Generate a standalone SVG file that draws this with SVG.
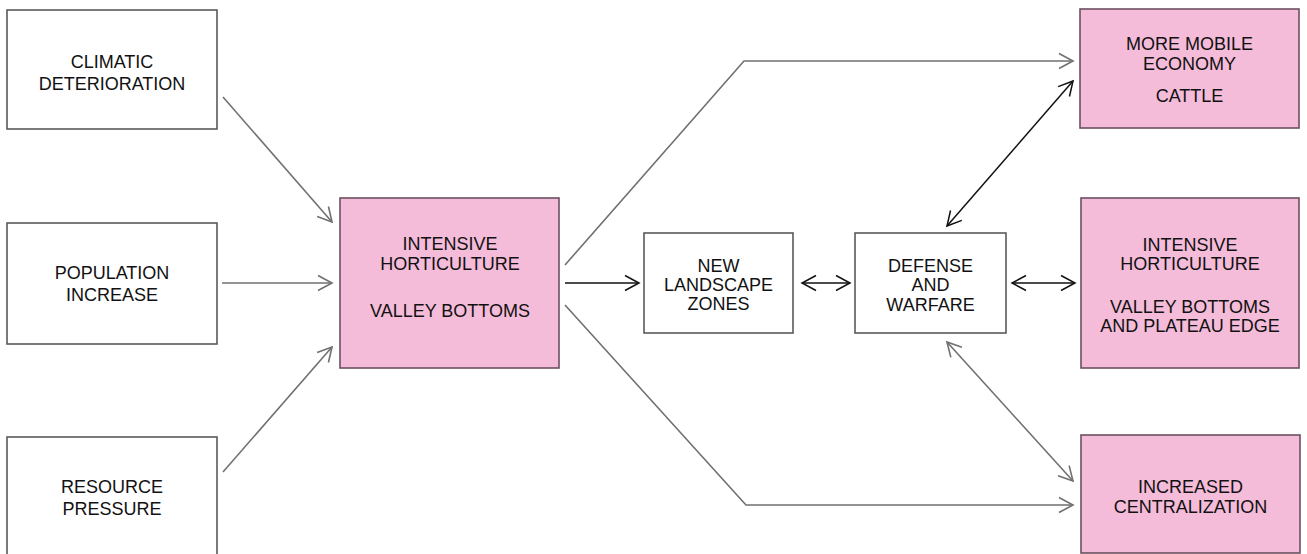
<svg xmlns="http://www.w3.org/2000/svg" width="1307" height="554" viewBox="0 0 1307 554">
  <defs>
    <style>
      .box { fill: #ffffff; stroke: #5a5a5a; stroke-width: 1.6; }
      .pink { fill: #f5bcd9; stroke: #6b5060; stroke-width: 1.6; }
      .label { font-family: "Liberation Sans", Arial, sans-serif; font-size: 18px; fill: #111111; text-anchor: middle; }
      .grey { fill: none; stroke: #707070; stroke-width: 1.6; }
      .black { fill: none; stroke: #111111; stroke-width: 1.5; }
    </style>
    <marker id="headGrey" viewBox="-16 -9 18 18" refX="0" refY="0" markerWidth="18" markerHeight="18" markerUnits="userSpaceOnUse" orient="auto-start-reverse">
      <path d="M -14 -7.5 L 0 0 L -14 7.5" fill="none" stroke="#707070" stroke-width="1.6"/>
    </marker>
    <marker id="headBlack" viewBox="-16 -9 18 18" refX="0" refY="0" markerWidth="18" markerHeight="18" markerUnits="userSpaceOnUse" orient="auto-start-reverse">
      <path d="M -14 -7.5 L 0 0 L -14 7.5" fill="none" stroke="#111111" stroke-width="1.5"/>
    </marker>
  </defs>

  <rect width="1307" height="554" fill="#ffffff"/>

  <!-- connectors -->
  <g id="connectors">
    <line class="grey" x1="223" y1="97" x2="332" y2="222" marker-end="url(#headGrey)"/>
    <line class="grey" x1="222" y1="283" x2="332" y2="283" marker-end="url(#headGrey)"/>
    <line class="grey" x1="223" y1="472" x2="332" y2="347" marker-end="url(#headGrey)"/>
    <line class="black" x1="565" y1="283" x2="639" y2="283" marker-end="url(#headBlack)"/>
    <polyline class="grey" points="565,265 744,61 1073,61" marker-end="url(#headGrey)"/>
    <polyline class="grey" points="565,305 746,505 1073,505" marker-end="url(#headGrey)"/>
    <line class="black" x1="802" y1="283" x2="850" y2="283" marker-start="url(#headBlack)" marker-end="url(#headBlack)"/>
    <line class="black" x1="1012" y1="283" x2="1075" y2="283" marker-start="url(#headBlack)" marker-end="url(#headBlack)"/>
    <line class="black" x1="947" y1="226" x2="1073" y2="81" marker-start="url(#headBlack)" marker-end="url(#headBlack)"/>
    <line class="grey" x1="947" y1="342" x2="1073" y2="481" marker-start="url(#headGrey)" marker-end="url(#headGrey)"/>
  </g>

  <!-- input boxes -->
  <g id="climatic">
    <rect class="box" x="7" y="10" width="210" height="119"/>
    <text class="label" x="112" y="68">CLIMATIC</text>
    <text class="label" x="112" y="90">DETERIORATION</text>
  </g>
  <g id="population">
    <rect class="box" x="7" y="223" width="210" height="121"/>
    <text class="label" x="112" y="279">POPULATION</text>
    <text class="label" x="112" y="301">INCREASE</text>
  </g>
  <g id="resource">
    <rect class="box" x="7" y="437" width="210" height="118"/>
    <text class="label" x="112" y="493">RESOURCE</text>
    <text class="label" x="112" y="515">PRESSURE</text>
  </g>

  <!-- central box -->
  <g id="horticulture-valley">
    <rect class="pink" x="340" y="198" width="219" height="170"/>
    <text class="label" x="450" y="250">INTENSIVE</text>
    <text class="label" x="450" y="270">HORTICULTURE</text>
    <text class="label" x="450" y="317">VALLEY BOTTOMS</text>
  </g>

  <!-- middle boxes -->
  <g id="landscape">
    <rect class="box" x="644" y="233" width="149" height="100"/>
    <text class="label" x="718.5" y="272">NEW</text>
    <text class="label" x="718.5" y="291">LANDSCAPE</text>
    <text class="label" x="718.5" y="310">ZONES</text>
  </g>
  <g id="defense">
    <rect class="box" x="855" y="233" width="151" height="100"/>
    <text class="label" x="930.5" y="272">DEFENSE</text>
    <text class="label" x="930.5" y="291">AND</text>
    <text class="label" x="930.5" y="311">WARFARE</text>
  </g>

  <!-- outcome boxes -->
  <g id="mobile">
    <rect class="pink" x="1080" y="9" width="219" height="119"/>
    <text class="label" x="1189.5" y="50">MORE MOBILE</text>
    <text class="label" x="1189.5" y="70">ECONOMY</text>
    <text class="label" x="1189.5" y="102">CATTLE</text>
  </g>
  <g id="horticulture-plateau">
    <rect class="pink" x="1081" y="198" width="218" height="170"/>
    <text class="label" x="1190" y="251">INTENSIVE</text>
    <text class="label" x="1190" y="270">HORTICULTURE</text>
    <text class="label" x="1190" y="313">VALLEY BOTTOMS</text>
    <text class="label" x="1190" y="332">AND PLATEAU EDGE</text>
  </g>
  <g id="centralization">
    <rect class="pink" x="1081" y="435" width="219" height="118"/>
    <text class="label" x="1190.5" y="493">INCREASED</text>
    <text class="label" x="1190.5" y="513">CENTRALIZATION</text>
  </g>
</svg>
